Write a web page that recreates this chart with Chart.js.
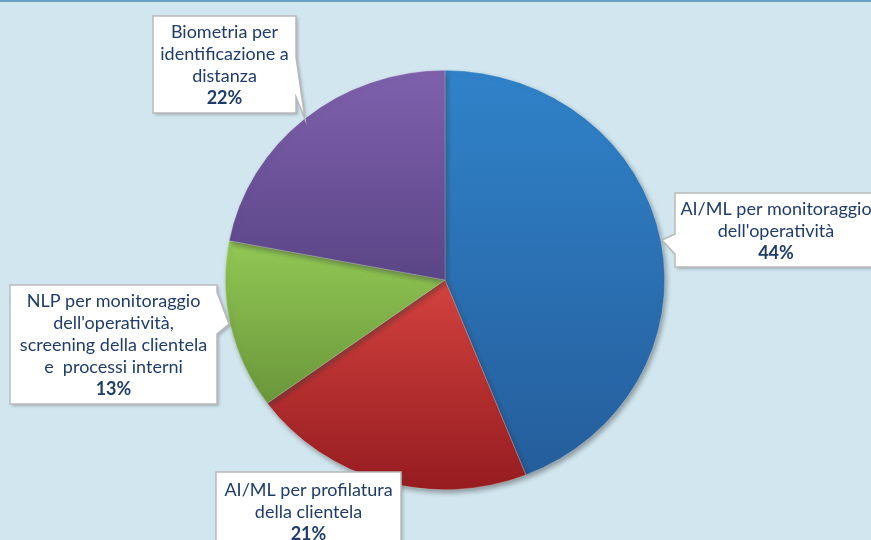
<!DOCTYPE html>
<html>
<head>
<meta charset="utf-8">
<script src="https://cdn.jsdelivr.net/npm/chart.js@4.4.1/dist/chart.umd.min.js"></script>
<style>
  html, body { margin: 0; padding: 0; background: #d1e6ef; }
  #wrap { position: relative; width: 871px; height: 540px; overflow: hidden; border-top: 2px solid #6a9ec4; box-sizing: border-box; }
  canvas { display: block; }
</style>
</head>
<body>
<div id="wrap"><canvas id="c" width="871" height="538"></canvas></div>
<script>
// data
var categories = [
  ["AI/ML per monitoraggio", "dell'operatività"],
  ["AI/ML per profilatura", "della clientela"],
  ["NLP per monitoraggio", "dell'operatività,", "screening della clientela", "e  processi interni"],
  ["Biometria per", "identificazione a", "distanza"]
];
var shares = [44, 21, 13, 22];
var pctLabels = ["44%", "21%", "13%", "22%"];

// top / bottom colours of each slice gradient
var topColors = ["#3082c9", "#d2423f", "#92c955", "#7e60ac"];
var bottomColors = ["#245c9a", "#961c20", "#6a963a", "#5a4586"];
var gradRange = [[70, 490], [280, 490], [235, 405], [70, 280]];

// callout boxes: x, y, w, h, pointer [bx1,by1,tipx,tipy,bx2,by2]
var boxes = [
  {x: 675, y: 191, w: 210, h: 74, ptr: [675, 232, 662, 238, 675, 252]},
  {x: 216, y: 470, w: 185, h: 80, ptr: null},
  {x: 10, y: 283, w: 207, h: 119, ptr: [217, 290, 229, 322, 217, 332]},
  {x: 153, y: 14, w: 143, h: 97, ptr: [296, 55, 305, 117, 296, 95]}
];

var ctx = document.getElementById('c').getContext('2d');

function sliceColor(context) {
  var chart = context.chart;
  var i = context.dataIndex;
  if (!chart.chartArea) return topColors[i];
  var g = chart.ctx.createLinearGradient(0, gradRange[i][0], 0, gradRange[i][1]);
  g.addColorStop(0, topColors[i]);
  g.addColorStop(1, bottomColors[i]);
  return g;
}

// slight horizontal stretch as in the original picture, plus drop shadow
var shadowPlugin = {
  id: 'pieShadow',
  beforeDatasetsDraw: function(chart) {
    var c = chart.ctx;
    var a = chart.chartArea;
    var cx = (a.left + a.right) / 2, cy = (a.top + a.bottom) / 2;
    c.save();
    c.translate(cx, cy);
    c.scale(1.028, 0.981);
    c.translate(-cx, -cy);
    c.shadowColor = 'rgba(60,60,60,0.45)';
    c.shadowBlur = 5;
    c.shadowOffsetX = 2;
    c.shadowOffsetY = 3;
  },
  afterDatasetsDraw: function(chart) {
    chart.ctx.restore();
  }
};

var calloutPlugin = {
  id: 'callouts',
  afterDraw: function(chart) {
    var c = chart.ctx;
    for (var i = 0; i < boxes.length; i++) {
      var b = boxes[i];
      c.save();
      c.shadowColor = 'rgba(80,80,80,0.35)';
      c.shadowBlur = 3;
      c.shadowOffsetX = 2;
      c.shadowOffsetY = 2;
      c.fillStyle = '#ffffff';
      c.beginPath();
      c.moveTo(b.x, b.y);
      c.lineTo(b.x + b.w, b.y);
      if (b.ptr && b.ptr[0] == b.x + b.w) {
        c.lineTo(b.ptr[0], b.ptr[1]);
        c.lineTo(b.ptr[2], b.ptr[3]);
        c.lineTo(b.ptr[4], b.ptr[5]);
      }
      c.lineTo(b.x + b.w, b.y + b.h);
      c.lineTo(b.x, b.y + b.h);
      if (b.ptr && b.ptr[0] == b.x) {
        c.lineTo(b.ptr[4], b.ptr[5]);
        c.lineTo(b.ptr[2], b.ptr[3]);
        c.lineTo(b.ptr[0], b.ptr[1]);
      }
      c.closePath();
      c.fill();
      c.shadowColor = 'transparent';
      c.strokeStyle = '#b9b9b9';
      c.lineWidth = 1.5;
      c.stroke();
      c.restore();

      var lines = categories[i];
      var cx = b.x + b.w / 2;
      if (i == 0) cx = 776;
      var lh = 22;
      var total = (lines.length + 1) * lh;
      var y0 = b.y + (b.h - total) / 2 + lh / 2 + 1;
      if (i == 1) y0 = 488;
      c.fillStyle = '#1f3d6b';
      c.textAlign = 'center';
      c.textBaseline = 'middle';
      c.font = '18px Lato';
      for (var j = 0; j < lines.length; j++) {
        c.fillText(lines[j], cx, y0 + j * lh);
      }
      c.font = 'bold 18px Lato';
      c.fillText(pctLabels[i], cx, y0 + lines.length * lh);
    }
  }
};

var config = {
  type: 'pie',
  data: {
    labels: categories.map(function(l) { return l.join(' '); }),
    datasets: [{
      data: shares,
      backgroundColor: sliceColor,
      borderWidth: 0.6,
      borderColor: 'rgba(255,255,255,0.35)'
    }]
  },
  options: {
    responsive: false,
    animation: false,
    rotation: 0,
    layout: { padding: { left: 231, right: 212, top: 64, bottom: 46 } },
    plugins: {
      legend: { display: false },
      tooltip: { enabled: false }
    }
  },
  plugins: [shadowPlugin, calloutPlugin]
};

var myChart = new Chart(ctx, config);
</script>
</body>
</html>
